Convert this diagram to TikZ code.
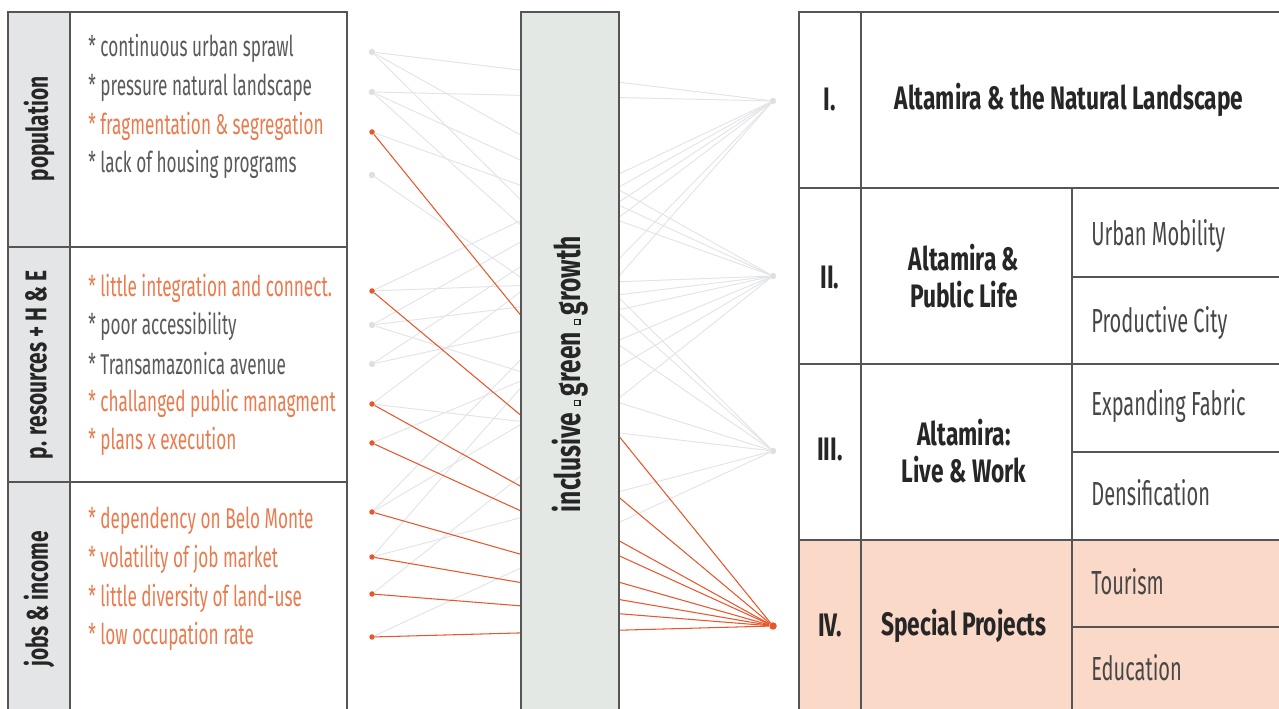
\documentclass[tikz,border=0pt]{standalone}
\usepackage{fontspec}
\setmainfont[FakeStretch=0.6, BoldFeatures={FakeStretch=0.7}]{Fira Sans}
\definecolor{hot}{HTML}{E8562B}
\definecolor{hottext}{HTML}{EA7B4F}
\definecolor{textgray}{HTML}{5A5A5A}
\definecolor{darktext}{HTML}{262626}
\definecolor{linegray}{HTML}{555555}
\definecolor{linkgray}{HTML}{E2E4E7}
\definecolor{dotgray}{HTML}{DDDFE2}
\definecolor{labelfill}{HTML}{E4E5E7}
\definecolor{barfill}{HTML}{E3E8E4}
\definecolor{specialfill}{HTML}{FAD9C8}
% tiny open square between the words on the bar
\newcommand{\gapsq}{\hspace{4pt}\raisebox{0.5pt}{\fboxsep0pt\fboxrule0.6pt\fbox{\rule{0pt}{2.4pt}\rule{2.4pt}{0pt}}}\hspace{2pt}}
\begin{document}
\begin{tikzpicture}[x=0.02cm, y=-0.02cm,
  frame/.style={draw=linegray, line width=0.9pt},
  thin frame/.style={draw=linegray, line width=0.7pt},
  dot/.style={circle, fill=dotgray, inner sep=0pt, minimum size=0.13cm},
  hot dot/.style={circle, fill=hot, inner sep=0pt, minimum size=0.11cm},
  link/.style={draw=linkgray, line width=0.55pt},
  hot link/.style={draw=hot, line width=0.6pt},
  item/.style={anchor=west, inner sep=0pt, text=textgray, font=\fontsize{16.3}{19}\selectfont},
  hot item/.style={item, text=hottext},
  side label/.style={rotate=90, inner sep=0pt, text=darktext, font=\bfseries\fontsize{17}{20}\selectfont},
  head/.style={inner sep=0pt, align=center, text=darktext, font=\bfseries\fontsize{18.5}{21.5}\selectfont},
  sub/.style={anchor=west, inner sep=0pt, text=darktext!85, font=\fontsize{19}{22}\selectfont}]
\useasboundingbox (0,0) rectangle (1279,709);

% left table
\fill[labelfill] (8,12) rectangle (70,720);
\draw[frame] (8,720) -- (8,12) -- (347,12) -- (347,720);
\draw[frame] (70,12) -- (70,720);
\draw[frame] (8,247) -- (347,247);
\draw[frame] (8,482) -- (347,482);
\node[side label] (pop) at (39,129) {population};
\node[side label] (res) at (39,365) {p. resources + H \& E};
\node[side label] (job) at (39,599) {jobs \& income};

\node[item] (t1) at (88,48) {* continuous urban sprawl};
\node[item] (t2) at (88,88) {* pressure natural landscape};
\node[hot item] (t3) at (88,126) {* fragmentation \& segregation};
\node[item] (t4) at (88,164) {* lack of housing programs};
\node[hot item] (t5) at (88,288) {* little integration and connect.};
\node[item] (t6) at (88,326) {* poor accessibility};
\node[item] (t7) at (88,364) {* Transamazonica avenue};
\node[hot item] (t8) at (88,403) {* challanged public managment};
\node[hot item] (t9) at (88,441) {* plans x execution};
\node[hot item] (t10) at (88,521) {* dependency on Belo Monte};
\node[hot item] (t11) at (88,559) {* volatility of job market};
\node[hot item] (t12) at (88,598) {* little diversity of land-use};
\node[hot item] (t13) at (88,636) {* low occupation rate};

% problem dots
\node[dot] (p1) at (372,52) {};
\node[dot] (p2) at (372,92) {};
\node[hot dot] (p3) at (372,132) {};
\node[dot] (p4) at (372,175) {};
\node[hot dot] (p5) at (372,291) {};
\node[dot] (p6) at (372,325) {};
\node[dot] (p7) at (372,364) {};
\node[hot dot] (p8) at (372,404) {};
\node[hot dot] (p9) at (372,443) {};
\node[hot dot] (p10) at (372,512) {};
\node[hot dot] (p11) at (372,557) {};
\node[hot dot] (p12) at (372,594) {};
\node[hot dot] (p13) at (372,637) {};
% strategy dots
\node[dot] (c1) at (773,101) {};
\node[dot] (c2) at (773,276) {};
\node[dot] (c3) at (773,451) {};
\node[hot dot, minimum size=0.15cm] (c4) at (773,626) {};

\begin{scope}[link]
\draw (p1) -- (c1); \draw (p1) -- (c2); \draw (p1) -- (c3);
\draw (p2) -- (c1); \draw (p2) -- (c2); \draw (p2) -- (c3);
\draw (p3) -- (c2);
\draw (p4) -- (c3);
\draw (p5) -- (c1); \draw (p5) -- (c2);
\draw (p6) -- (c1); \draw (p6) -- (c2); \draw (p6) -- (c3);
\draw (p7) -- (c1); \draw (p7) -- (c2);
\draw (p8) -- (c1); \draw (p8) -- (c3);
\draw (p9) -- (c2);
\draw (p10) -- (c1); \draw (p10) -- (c2);
\draw (p11) -- (c1); \draw (p11) -- (c3);
\draw (p12) -- (c2);
\draw (p13) -- (c3);
\end{scope}
\begin{scope}[hot link]
\draw (p3) -- (c4);
\draw (p5) -- (c4);
\draw (p8) -- (c4);
\draw (p9) -- (c4);
\draw (p10) -- (c4);
\draw (p11) -- (c4);
\draw (p12) -- (c4);
\draw (p13) -- (c4);
\end{scope}

% middle bar
\draw[frame, fill=barfill] (521,12) rectangle (619,720);
\node[rotate=90, inner sep=0pt, text=darktext, font=\bfseries\fontsize{20}{24}\selectfont] (igg) at (570,374) {inclusive\gapsq green\gapsq growth};

% right table
\fill[specialfill] (799,540) rectangle (1285,720);
\draw[frame] (799,720) -- (799,12) -- (1285,12);
\draw[frame] (861,12) -- (861,720);
\draw[frame] (1072,188) -- (1072,720);
\draw[frame] (799,188) -- (1285,188);
\draw[frame] (799,364) -- (1285,364);
\draw[frame] (799,540) -- (1285,540);
\draw[thin frame] (1072,277) -- (1285,277);
\draw[thin frame] (1072,452) -- (1285,452);
\draw[thin frame] (1072,627) -- (1285,627);

\node[head] (n1) at (830,100) {I.};
\node[head] (s1) at (1069,100) {Altamira \& the Natural Landscape};
\node[head] (n2) at (830,278) {II.};
\node[head] (s2) at (964,276) {Altamira \&\\Public Life};
\node[head] (n3) at (830,450) {III.};
\node[head] (s3) at (964,451) {Altamira:\\Live \& Work};
\node[head] (n4) at (830,626) {IV.};
\node[head] (s4) at (964,626) {Special Projects};

\node[sub] (u1) at (1091,236) {Urban Mobility};
\node[sub] (u2) at (1091,323) {Productive City};
\node[sub] (u3) at (1091,406) {Expanding Fabric};
\node[sub] (u4) at (1091,493) {Densification};
\node[sub] (u5) at (1091,582) {Tourism};
\node[sub] (u6) at (1091,668) {Education};
\end{tikzpicture}
\end{document}
